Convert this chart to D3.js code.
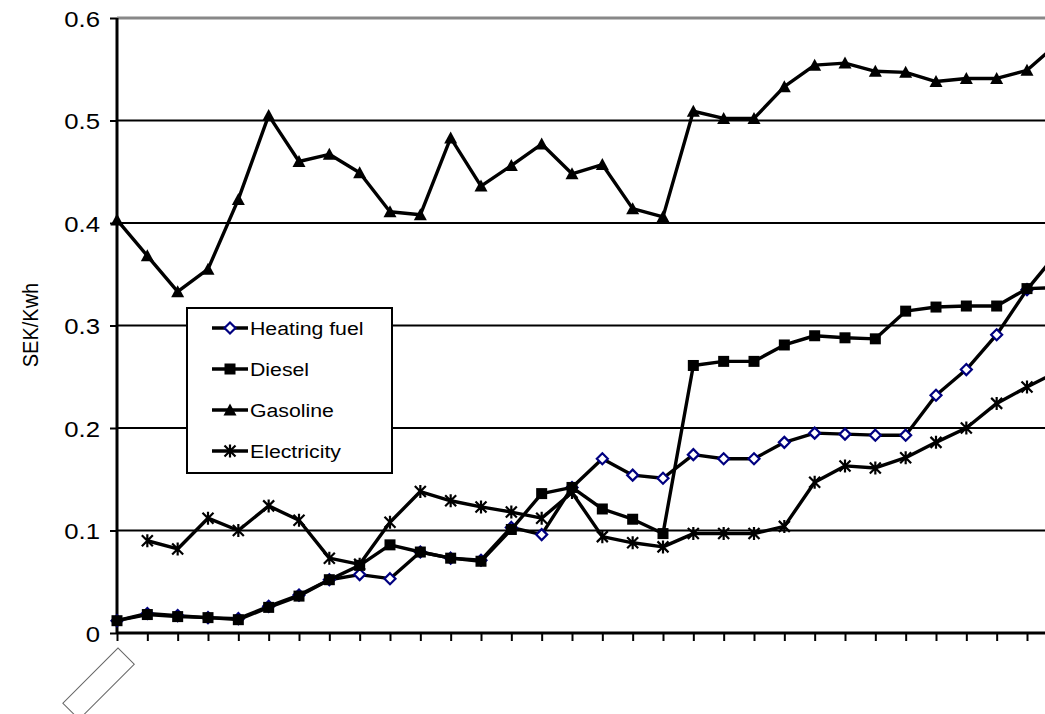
<!DOCTYPE html>
<html>
<head>
<meta charset="utf-8">
<script src="https://cdn.jsdelivr.net/npm/d3@7"></script>
<style>
  html, body { margin: 0; padding: 0; background: #fff; }
  svg { display: block; }
  text { font-family: "Liberation Sans", Arial, sans-serif; fill: #000; }
</style>
</head>
<body>
<svg id="chart" width="1045" height="714"></svg>
<script>
// Category positions (the axis carries no visible labels)
const categories = d3.range(32);
const categoryLabels = categories.map(() => "");

// Price per kWh, SEK
const heatingFuel = [0.012, 0.019, 0.017, 0.015, 0.014, 0.026, 0.037, 0.052, 0.057, 0.053,
  0.079, 0.073, 0.071, 0.103, 0.096, 0.142, 0.170, 0.154, 0.151, 0.174,
  0.170, 0.170, 0.186, 0.195, 0.194, 0.193, 0.193, 0.232, 0.257, 0.291,
  0.335, 0.371];
const diesel = [0.012, 0.018, 0.016, 0.015, 0.013, 0.025, 0.036, 0.052, 0.066, 0.086,
  0.079, 0.073, 0.070, 0.101, 0.136, 0.142, 0.121, 0.111, 0.097, 0.261,
  0.265, 0.265, 0.281, 0.290, 0.288, 0.287, 0.314, 0.318, 0.319, 0.319,
  0.336, 0.337];
const gasoline = [0.403, 0.368, 0.333, 0.355, 0.423, 0.505, 0.460, 0.467, 0.449, 0.411,
  0.408, 0.483, 0.436, 0.456, 0.477, 0.448, 0.457, 0.414, 0.406, 0.509,
  0.502, 0.502, 0.533, 0.554, 0.556, 0.548, 0.547, 0.538, 0.541, 0.541,
  0.549, 0.575];
const electricity = [null, 0.090, 0.082, 0.112, 0.100, 0.124, 0.110, 0.073, 0.067, 0.108,
  0.138, 0.129, 0.123, 0.118, 0.112, 0.137, 0.094, 0.088, 0.084, 0.097,
  0.097, 0.097, 0.104, 0.147, 0.163, 0.161, 0.171, 0.186, 0.200, 0.224,
  0.240, 0.255];

const yTicks = [0, 0.1, 0.2, 0.3, 0.4, 0.5, 0.6];
const yTickLabels = ["0", "0.1", "0.2", "0.3", "0.4", "0.5", "0.6"];
const yTitle = "SEK/Kwh";

const seriesNames = ["Heating fuel", "Diesel", "Gasoline", "Electricity"];
const seriesValues = [heatingFuel, diesel, gasoline, electricity];
const seriesMarkers = ["diamond", "square", "triangle", "star"];

const svg = d3.select("#chart");
const W = 1045;
const x = d3.scaleLinear().domain([0, 30]).range([117, 1027]);
const y = d3.scaleLinear().domain([0, 0.6]).range([633, 18]);
const stretch = 1.12; // text is drawn slightly wide

// Horizontal gridlines
svg.append("g")
  .selectAll("line")
  .data(yTicks.filter(v => v > 0))
  .join("line")
  .attr("x1", x(0)).attr("x2", W)
  .attr("y1", d => y(d)).attr("y2", d => y(d))
  .attr("stroke", d => d === 0.6 ? "#888" : "#000")
  .attr("stroke-width", d => d === 0.6 ? 3 : 2);

// Y axis
const yAxis = svg.append("g")
  .attr("transform", `translate(${x(0)},0)`)
  .call(d3.axisLeft(y).tickValues(yTicks)
    .tickFormat((d, i) => yTickLabels[i]).tickSize(7).tickPadding(0));
yAxis.select(".domain").attr("stroke", "#000").attr("stroke-width", 3)
  .attr("d", `M0,${y(0.6)}V${y(0)}`);
yAxis.selectAll(".tick line").attr("stroke", "#000").attr("stroke-width", 2);
yAxis.selectAll(".tick text")
  .attr("font-size", 23)
  .attr("x", -17 / stretch)
  .attr("dy", "0.36em")
  .attr("transform", `scale(${stretch},1)`)
  .style("font-family", '"Liberation Sans", Arial, sans-serif');

// X axis (ticks only)
const xAxis = svg.append("g")
  .attr("transform", `translate(0,${y(0)})`)
  .call(d3.axisBottom(x).tickValues(categories)
    .tickFormat((d, i) => categoryLabels[i]).tickSize(8));
xAxis.select(".domain").attr("stroke", "#000").attr("stroke-width", 3)
  .attr("d", `M${x(0)},0H${W + 40}`);
xAxis.selectAll(".tick line").attr("stroke", "#000").attr("stroke-width", 2);

// Empty rotated category label frame
svg.append("rect")
  .attr("transform", "translate(118,648) rotate(45)")
  .attr("width", 23).attr("height", 78)
  .attr("fill", "none").attr("stroke", "#666").attr("stroke-width", 1);

// Y axis title
svg.append("text")
  .attr("transform", "translate(38,325) rotate(-90) scale(1," + stretch + ")")
  .attr("text-anchor", "middle")
  .attr("font-size", 20)
  .text(yTitle);

// Marker shapes
function drawMarker(sel, type) {
  if (type === "diamond") {
    sel.append("path").attr("d", "M0,-5.5L5.5,0L0,5.5L-5.5,0Z")
      .attr("fill", "#fff").attr("stroke", "#000080").attr("stroke-width", 2.2);
  } else if (type === "square") {
    sel.append("rect").attr("x", -5.5).attr("y", -5.5).attr("width", 11).attr("height", 11)
      .attr("fill", "#000");
  } else if (type === "triangle") {
    sel.append("path").attr("d", "M0,-6.5L6.5,5.5L-6.5,5.5Z").attr("fill", "#000");
  } else if (type === "star") {
    sel.append("path").attr("d", "M-5.5,-5.5L5.5,5.5M-5.5,5.5L5.5,-5.5M0,-6.5V6.5")
      .attr("fill", "none").attr("stroke", "#000").attr("stroke-width", 2.2);
  }
}

const line = d3.line()
  .defined(d => d != null)
  .x((d, i) => x(categories[i]))
  .y(d => y(d));

seriesValues.forEach((vals, s) => {
  const g = svg.append("g");
  g.append("path")
    .attr("d", line(vals))
    .attr("fill", "none").attr("stroke", "#000")
    .attr("stroke-width", 3.4).attr("stroke-linejoin", "round");
  vals.forEach((v, i) => {
    if (v == null) return;
    const m = g.append("g").attr("transform", `translate(${x(categories[i])},${y(v)})`);
    drawMarker(m, seriesMarkers[s]);
  });
});

// Legend
const legend = svg.append("g");
legend.append("rect")
  .attr("x", 187).attr("y", 308).attr("width", 205).attr("height", 165)
  .attr("fill", "#fff").attr("stroke", "#000").attr("stroke-width", 2);
seriesNames.forEach((name, i) => {
  const cy = 328 + i * 41;
  const item = legend.append("g").attr("transform", `translate(0,${cy})`);
  item.append("line").attr("x1", 212).attr("x2", 248).attr("y1", 0).attr("y2", 0)
    .attr("stroke", "#000").attr("stroke-width", 3.4);
  drawMarker(item.append("g").attr("transform", "translate(230,0)"), seriesMarkers[i]);
  item.append("text")
    .attr("transform", `translate(250,0) scale(${stretch},1)`)
    .attr("dy", "0.36em")
    .attr("font-size", 19)
    .text(name);
});
</script>
</body>
</html>
